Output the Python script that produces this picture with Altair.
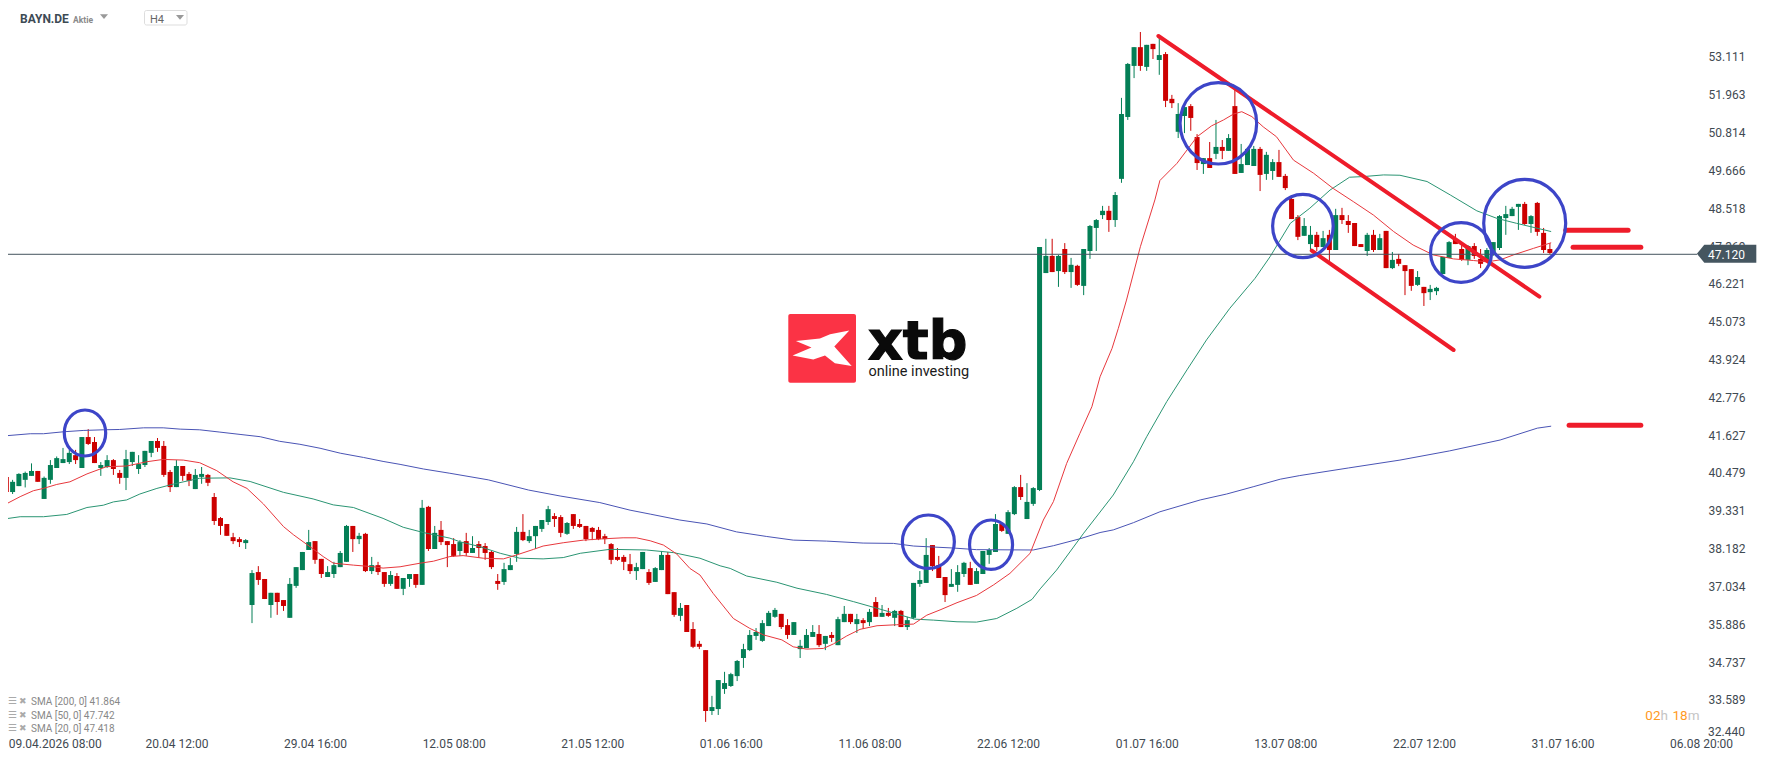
import altair as alt
import pandas as pd

alt.data_transformers.disable_max_rows()

directions = ("RGGGGRGGGG" "GRGRRGGRRG" "GGGGRRRGRR" "GGRRRRRRGG" "RRGRRGGGGR" "RGGGGRGRGR" "RGRGGRGRGR" "RRGRGRRRRG"
              "GGRGGGGRRG" "RRRRRRRRRR" "GGRGGRRGRR" "RRGGGGGGGG" "GGGRRGGGGR" "GRGGRGRGRG" "RGRGGGGRRR" "GGGRGGGGRG"
              "GRGGGGRGRG" "RGGGGRGGGG" "RGRGRRGGRR" "GRGRGRGGGR" "GGRRRRGGRG" "RGRRRRGRGR" "GRRRGRGGGG" "RRGRRGGGGG"
              "GRGRRR")

highs = [40.57,40.27,40.47,40.52,40.77,40.54,40.37,40.87,40.98,41.24,
41.18,41.18,41.57,41.81,41.57,40.81,41.02,40.90,40.57,41.18,
41.12,41.02,41.15,41.45,41.54,41.45,40.57,40.87,40.69,40.51,
40.60,40.66,40.45,39.87,39.14,38.93,38.66,38.53,38.47,37.53,
37.65,37.26,36.84,36.84,36.62,37.29,37.62,38.08,38.75,38.41,
37.87,37.65,37.78,38.11,38.90,38.87,38.66,38.66,37.93,37.78,
37.47,37.50,37.44,37.29,37.41,37.41,39.66,39.48,38.87,39.02,
38.41,38.50,38.44,38.66,38.56,38.41,38.35,38.11,37.41,37.75,
37.90,38.84,39.23,38.75,38.87,39.05,39.48,39.26,39.20,38.99,
39.23,39.08,38.87,38.84,38.84,38.63,38.35,38.20,37.99,38.02,
37.75,38.08,37.56,37.62,38.11,38.08,36.86,36.53,36.47,35.95,
35.38,35.10,33.71,34.19,34.44,34.41,34.80,35.29,35.71,35.77,
36.01,36.29,36.38,36.20,36.04,35.95,35.41,35.74,35.86,35.86,
35.53,35.65,36.11,36.44,36.20,36.20,36.07,36.35,36.71,36.47,
36.38,36.32,36.32,36.11,37.14,37.50,38.50,38.29,37.96,37.32,
37.56,37.68,37.78,37.78,37.59,38.11,38.20,39.23,38.99,39.35,
40.08,40.42,40.17,40.05,47.34,47.59,47.59,47.10,47.46,47.01,
46.80,47.28,48.01,48.19,48.59,48.59,49.01,51.87,52.93,53.41,
53.87,53.48,53.51,53.75,53.26,51.96,51.71,51.59,51.68,50.77,
50.04,50.53,51.20,50.59,50.77,52.11,50.47,50.35,50.41,50.38,
50.23,50.01,50.29,49.56,48.92,48.31,48.22,47.98,47.80,47.83,
47.86,48.50,48.53,48.31,48.07,47.43,47.77,47.86,47.74,47.83,
47.19,47.13,46.79,46.67,46.61,46.13,46.19,46.13,47.04,47.52,
47.74,47.43,47.40,47.46,47.28,47.31,47.49,48.31,48.59,48.56,
48.65,48.71,48.31,48.71,47.92,47.46]

body_tops = [40.36,40.21,40.45,40.48,40.54,40.54,40.33,40.72,40.93,40.90,
41.09,41.02,41.57,41.57,41.42,40.72,40.87,40.87,40.48,40.90,
41.12,40.75,41.15,41.45,41.45,41.30,40.51,40.69,40.69,40.45,
40.42,40.45,40.42,39.75,39.11,38.93,38.53,38.47,38.44,37.44,
37.47,37.26,36.84,36.84,36.62,37.11,37.62,38.08,38.38,38.41,
37.87,37.47,37.68,38.05,38.87,38.87,38.57,38.63,37.68,37.68,
37.47,37.38,37.35,37.29,37.41,37.41,39.42,39.45,38.66,38.75,
38.41,38.32,38.38,38.41,38.20,38.32,38.26,38.08,37.20,37.56,
37.68,38.69,38.69,38.56,38.87,39.05,39.38,39.17,39.14,38.96,
39.23,38.93,38.87,38.81,38.75,38.56,38.32,37.93,37.93,37.71,
37.62,38.08,37.47,37.59,37.99,37.99,36.86,36.38,36.47,35.74,
35.29,35.10,33.37,34.19,34.10,34.37,34.77,35.13,35.56,35.65,
35.92,36.23,36.32,36.20,35.86,35.95,35.23,35.56,35.65,35.59,
35.53,35.56,36.04,36.20,36.20,36.04,36.01,36.26,36.56,36.23,
36.23,36.29,36.29,36.01,37.14,37.23,37.99,38.29,37.68,37.32,
37.11,37.47,37.75,37.59,37.50,38.11,38.14,38.93,38.93,39.29,
40.05,40.05,39.60,40.02,47.34,47.07,47.07,47.07,47.28,46.80,
46.77,47.28,47.98,48.16,48.44,48.44,48.92,51.38,52.90,53.41,
53.41,53.48,53.51,53.17,53.20,51.84,51.38,51.59,51.62,50.68,
50.04,50.04,50.38,50.38,50.65,51.62,49.86,50.32,50.32,50.32,
50.14,49.92,49.92,49.50,48.80,48.25,47.98,47.71,47.71,47.61,
47.71,48.31,48.31,48.13,48.07,47.43,47.71,47.71,47.61,47.83,
46.95,46.98,46.79,46.67,46.43,46.13,46.07,46.10,47.04,47.49,
47.58,47.28,47.37,47.37,46.98,47.25,47.49,48.28,48.34,48.50,
48.65,48.65,48.28,48.68,47.77,47.28]

body_bottoms = [39.90,39.90,40.08,40.27,40.39,40.21,39.69,40.27,40.63,40.78,
40.81,40.87,40.63,41.36,40.78,40.63,40.66,40.60,40.33,40.33,
40.81,40.60,40.72,41.09,41.24,40.42,40.05,40.05,40.39,40.24,
39.99,40.36,40.18,39.02,38.87,38.57,38.41,38.38,38.35,36.47,
37.23,36.65,36.47,36.56,36.44,36.08,37.05,37.53,38.14,37.84,
37.41,37.32,37.41,37.62,37.78,38.47,38.47,37.50,37.50,37.47,
37.11,37.11,36.96,36.96,37.26,37.08,37.08,38.17,38.17,38.38,
38.29,37.96,38.11,38.05,38.05,38.20,38.05,37.62,37.11,37.17,
37.53,38.02,38.44,38.41,38.56,38.78,38.99,39.08,38.66,38.63,
38.87,38.84,38.47,38.69,38.47,38.47,37.84,37.84,37.78,37.50,
37.50,37.56,37.14,37.17,37.53,36.80,36.17,36.14,35.65,35.20,
35.20,33.25,33.25,33.31,33.92,34.01,34.31,34.86,35.10,35.53,
35.38,35.83,36.11,35.80,35.56,35.56,35.13,35.16,35.50,35.25,
35.29,35.47,35.25,35.95,35.95,35.89,35.92,35.95,36.11,36.11,
36.14,36.08,35.80,35.80,36.08,37.11,37.14,37.65,37.29,36.77,
37.02,37.08,37.41,37.08,37.11,37.41,37.99,38.08,38.72,38.63,
39.23,39.75,39.08,39.54,39.96,46.55,46.58,46.61,46.58,46.58,
46.19,46.16,47.22,47.92,48.31,48.16,48.16,49.41,51.29,52.84,
52.84,52.81,53.35,53.02,51.78,51.71,50.84,51.32,51.26,49.89,
49.86,49.74,50.17,50.26,50.26,49.56,49.59,49.83,49.80,49.53,
49.56,49.65,49.47,49.13,48.19,47.65,47.68,47.43,47.34,47.34,
47.25,47.25,48.16,48.01,47.37,47.34,47.22,47.25,47.25,46.70,
46.70,46.83,46.61,46.16,46.19,45.94,45.97,46.00,46.52,47.01,
47.43,46.95,46.95,47.07,46.83,46.95,47.19,47.31,48.22,48.28,
48.56,48.04,48.04,47.80,47.25,47.16]

lows = [39.84,39.84,40.08,40.04,40.39,40.21,39.69,40.15,40.63,40.78,
40.75,40.75,40.63,41.33,40.78,40.39,40.63,40.42,40.15,39.96,
40.69,40.45,40.66,40.96,41.12,40.36,39.90,40.05,40.24,40.08,
39.99,40.15,40.08,38.90,38.60,38.57,38.32,38.23,38.17,35.92,
37.08,36.65,36.08,36.17,36.29,36.08,36.99,37.53,38.14,37.72,
37.29,37.32,37.29,37.62,37.78,38.08,38.32,37.47,37.41,37.38,
37.02,37.05,36.96,36.77,37.02,36.99,37.08,38.11,38.17,38.29,
37.62,37.93,37.96,37.96,38.05,37.90,37.84,37.56,36.93,37.08,
37.53,37.78,38.41,38.35,38.17,38.69,38.90,38.84,38.53,38.60,
38.78,38.81,38.41,38.44,38.44,38.32,37.71,37.81,37.53,37.41,
37.23,37.56,37.08,37.17,37.53,36.80,36.11,35.98,35.65,35.16,
35.13,32.92,33.13,33.13,33.77,33.98,34.16,34.56,35.07,35.41,
35.35,35.83,36.08,35.74,35.44,35.56,34.86,35.16,35.50,35.19,
35.10,35.35,35.25,35.95,35.89,35.62,35.74,35.83,36.11,36.11,
36.11,35.83,35.80,35.71,36.04,37.02,37.14,37.50,37.29,36.56,
37.02,36.87,37.32,37.08,37.11,37.41,37.72,38.08,38.69,38.63,
39.20,39.66,39.08,39.48,39.93,46.55,46.58,46.13,46.52,46.10,
46.16,45.88,46.98,47.22,48.19,47.80,47.95,49.29,51.20,52.47,
52.69,52.69,53.05,52.57,51.59,51.56,50.65,50.80,50.87,49.68,
49.56,49.74,50.01,50.01,50.26,49.56,49.59,49.83,49.80,49.04,
49.38,49.38,49.47,49.07,48.19,47.55,47.68,47.22,47.22,47.34,
46.92,47.25,48.04,47.77,47.37,47.34,47.07,47.19,47.25,46.70,
46.67,46.76,45.88,46.01,46.16,45.55,45.73,45.88,46.52,47.01,
47.43,46.92,46.79,46.98,46.70,46.89,47.07,47.25,47.71,48.28,
47.86,48.01,47.77,47.68,47.16,47.13]

sma20_i = [1,3.2,5.3,6.9,9,11.1,13.8,16.9,20.1,23.3,25.9,29.1,31.7,34.4,37,39.2,41.8,45,46.6,49.2,51.3,52.9,56.1,59.3,60.8,63.5,66.7,68.8,
71.4,73.5,76.7,79.9,82,84.7,86.2,89.4,92.6,95.8,98.9,101,103.2,105.3,107.4,109.5,111.1,113.2,115.3,116.4,119,121.2,124.1,125.9,128,130.7,132.3,134.4,136.5,139.2,142.3,145,147.1,149.2,151.9,155,157.7,160.3,163.5,165.6,167.2,169.3,171.4,173.3,174.6,176.5,177.5,178.8,181,183.3,184.1,186.8,190,192.3,194.2,195.8,197.1,198.7,200.5,202.6,205.3,208.5,211.6,214.8,218,221.2,224.3,227.5,230.7,233.9,236,238.1,240.2,243.4,246.2]
sma20_v = [39.54,39.76,39.94,40.01,40.13,40.21,40.45,40.67,40.69,40.82,40.89,40.87,40.79,40.55,40.21,40.01,39.54,38.85,38.6,38.24,37.94,37.74,37.68,37.63,37.59,37.63,37.74,37.8,
37.94,37.97,37.89,37.87,37.99,38.16,38.26,38.36,38.44,38.48,38.51,38.51,38.42,38.29,38.02,37.58,37.38,36.82,36.32,36.06,35.76,35.56,35.41,35.2,35.13,35.15,35.29,35.53,35.73,35.84,35.87,35.89,36.16,36.32,36.54,36.76,37.08,37.43,38.04,39.05,39.61,40.77,41.68,42.49,43.4,44.26,44.87,45.73,47.35,48.77,49.36,49.88,50.69,51.02,51.2,51.38,51.45,51.3,50.99,50.69,49.98,49.58,49.12,48.72,48.31,47.81,47.4,47.1,46.98,46.93,46.89,46.95,47.1,47.3,47.47]

sma50_i = [1,3.2,6.9,10.6,13.8,16.4,18,20.1,22.2,24.9,27.5,31.7,36.5,39.7,45,49.7,52.9,56.1,60.8,64,67.2,71.4,
73,76.2,79.4,82.5,86.2,89.4,92.1,96.8,102.6,106.9,111.1,114.3,115.9,118.5,123.3,126.5,131.2,135.5,139.2,142.3,145.2,148.2,151.9,155,158.2,161.4,163.8,165.1,167.7,172,176.7,179.9,182,185.2,188.4,191.5,195.2,199.2,201.6,204.8,207.9,211.1,214.2,216.4,219.6,222.2,226.5,230.2,234.4,237.6,240.7,246.2]
sma50_v = [39.09,39.15,39.15,39.22,39.43,39.5,39.6,39.66,39.84,40.01,40.14,40.32,40.33,40.22,39.89,39.69,39.51,39.43,39.1,38.83,38.67,38.5,
38.39,38.24,38.04,37.89,37.87,37.91,38.04,38.16,38.14,38.06,37.89,37.66,37.58,37.35,37.16,36.98,36.79,36.57,36.37,36.2,36.04,36.01,35.96,35.95,36.06,36.37,36.64,36.96,37.53,38.65,39.81,40.82,41.58,42.65,43.61,44.52,45.48,46.39,47.05,48.06,48.52,49.07,49.46,49.48,49.53,49.52,49.33,48.92,48.44,48.21,48.06,47.81]

sma200_i = [1,4.8,6.9,10.1,13.2,16.4,19,22.8,25.9,28.6,31.7,34.9,38.1,41.3,44.4,47.6,50.8,54,57.7,60.8,63.5,67.2,71.4,77.5,83.9,88.9,95.2,100,103.2,107.9,112.2,116.9,121.7,125.9,131.2,137,141.8,145,151.3,155,164,167.2,171.4,174.6,176.7,179.9,184.1,190.5,194.7,198.9,203.2,206.3,214,222.2,230.1,238.1,244,246.2]
sma200_v = [41.61,41.67,41.67,41.73,41.77,41.79,41.8,41.85,41.85,41.81,41.79,41.72,41.65,41.58,41.44,41.35,41.23,41.08,40.95,40.83,40.74,40.6,40.47,40.27,39.96,39.78,39.58,39.35,39.23,39.05,38.93,38.69,38.55,38.44,38.41,38.35,38.34,38.26,38.2,38.15,38.14,38.27,38.48,38.67,38.75,38.97,39.3,39.66,39.84,40.06,40.29,40.4,40.63,40.87,41.15,41.48,41.84,41.9]

price_ticks = [53.111,51.963,50.814,49.666,48.518,47.369,46.221,45.073,43.924,42.776,41.627,40.479,39.331,38.182,37.034,35.886,34.737,33.589]
time_ticks = [1.3,23,45,67,89,111,133,155,177,199,221,243,265]
time_labels = ["09.04.2026 08:00","20.04 12:00","29.04 16:00","12.05 08:00","21.05 12:00","01.06 16:00","11.06 08:00","22.06 12:00","01.07 16:00","13.07 08:00","22.07 12:00","31.07 16:00","06.08 20:00"]

trend_lines = [([183.86,244.33],[53.749,45.832],4),([208.2,230.71],[47.229,44.213],4),
               ([248.52,258.41],[47.849,47.849],5),([249.68,260.43],[47.332,47.332],5),([249.05,260.43],[41.927,41.927],5)]
ellipses = [(13.49,41.693,20.7,23),(147.35,38.392,26,26.7),(157.3,38.30,21.5,24.7),(193.38,51.098,38.3,40.7),
            (206.8,47.979,30.3,31.7),(231.9,47.174,30.5,29.8),(242,48.061,41,44)]

FONT = "Roboto"
n = len(highs)
df = pd.DataFrame({"i": range(1, n + 1), "high": highs, "top": body_tops, "bottom": body_bottoms, "low": lows, "dir": list(directions)})

xscale = alt.Scale(domain=[1.27, 270.3], nice=False, zero=False, padding=0)
yscale = alt.Scale(domain=[32.461, 54.599], nice=False, zero=False, padding=0)
color = alt.Color("dir:N", scale=alt.Scale(domain=["G", "R"], range=["#047f56", "#cc0000"]), legend=None)
label_expr = "[" + ",".join(f"'{t}'" for t in time_labels) + "][indexof([" + ",".join(str(t) for t in time_ticks) + "],datum.value)]"
x_axis = alt.Axis(values=time_ticks, labelExpr=label_expr, labelAlign="left", ticks=False, domain=False, title=None,
                  grid=False, labelPadding=1, labelFont=FONT, labelFontSize=12, labelColor="#3f4a52", labelOverlap=False, labelFlush=False)
y_axis = alt.Axis(values=price_ticks, orient="right", format=".3f", ticks=False, domain=False, title=None,
                  grid=False, labelPadding=5, labelFont=FONT, labelFontSize=12, labelColor="#3f4a52", labelOverlap=False, labelFlush=False)
X = alt.X("i:Q", scale=xscale, axis=x_axis)
Y = lambda f: alt.Y(f, scale=yscale, axis=y_axis)

wicks = alt.Chart(df).mark_rule(strokeWidth=1).encode(x=X, y=Y("low:Q"), y2="high:Q", color=color)
bodies = alt.Chart(df).mark_bar(size=5).encode(x=X, y=Y("top:Q"), y2="bottom:Q", color=color)

def line(xs, ys, col, width=1, cap="butt"):
    d = pd.DataFrame({"i": xs, "v": ys})
    return alt.Chart(d).mark_line(color=col, strokeWidth=width, strokeCap=cap, clip=False).encode(x=X, y=Y("v:Q"), order="i:Q")

layers = [wicks, bodies,
          line(sma200_i, sma200_v, "#4a54b5"), line(sma50_i, sma50_v, "#2b9573"), line(sma20_i, sma20_v, "#e8383d")]

one = pd.DataFrame({"a": [0]})
def val(v):
    return alt.value(v - 8)

def txt(text, x, y, size, col, weight=None, font=FONT, baseline="middle", **extra):
    kw = dict(text=text, align="left", baseline=baseline, font=font, fontSize=size, color=col, **extra)
    if weight:
        kw["fontWeight"] = weight
    return alt.Chart(one).mark_text(**kw).encode(x=val(x), y=val(y))

def glyph(path, x, y, radius, col):
    return alt.Chart(one).mark_point(shape=path, size=(2 * radius) ** 2, filled=True, color=col, opacity=1, strokeWidth=0).encode(x=val(x), y=val(y))

# current price line and tag
layers.append(alt.Chart(pd.DataFrame({"v": [47.12]})).mark_rule(color="#44535d", strokeWidth=1).encode(y=Y("v:Q"), x=alt.value(0), x2=val(1697)))
layers.append(glyph("M -0.98 0 L -0.733 -0.3 L 1 -0.3 L 1 0.3 L -0.733 0.3 Z", 1726.3, 253.7, 30, "#455660"))
layers.append(txt("47.120", 1708, 254.5, 12, "#ffffff"))
layers.append(txt("32.440", 1708, 731.7, 12, "#3f4a52"))

# drawn annotations
for xs, ys, w in trend_lines:
    layers.append(line(xs, ys, "#ee1c2a", w, "round"))
for ci, cv, rx, ry in ellipses:
    k = round(ry / rx, 4)
    path = f"M -1 0 A 1 {k} 0 1 1 1 0 A 1 {k} 0 1 1 -1 0 Z"
    layers.append(alt.Chart(pd.DataFrame({"i": [ci], "v": [cv]})).mark_point(
        shape=path, size=(2 * rx) ** 2, filled=False, stroke="#3d45c8", strokeWidth=3.2, opacity=1, clip=False).encode(x=X, y=Y("v:Q")))

# logo
layers.append(alt.Chart(one).mark_rect(color="#fb3345", cornerRadius=2).encode(x=val(788.3), x2=val(856), y=val(314), y2=val(382.7)))
layers.append(glyph("M 0.9 -0.59 L 0.26 -0.47 L -0.08 -0.33 L -0.88 -0.24 L -0.36 -0.03 L -0.99 0.24 L -0.3 0.37 L 0.09 0.24 L 0.42 0.5 L 0.98 0.59 L 0.4 -0.06 Z",
                    822.3, 348.3, 30, "#ffffff"))
layers.append(txt("xtb", 868, 359, 54, "#0a0a0a", "bold", "DejaVu Sans", "alphabetic", stroke="#0a0a0a", strokeWidth=1.2))
layers.append(txt("online investing", 868.5, 375.7, 14.5, "#1a1a1a", None, FONT, "alphabetic"))

# header
layers.append(txt("BAYN.DE", 20, 19, 12, "#3d4a54", "bold"))
layers.append(txt("Aktie", 73, 19.5, 8.5, "#8a8a8a", "bold"))
tri = "M -1 -0.6 L 1 -0.6 L 0 0.6 Z"
layers.append(glyph(tri, 104, 16.7, 4, "#999999"))
layers.append(alt.Chart(one).mark_rect(fill="#ffffff", stroke="#dddddd", strokeWidth=1, cornerRadius=2).encode(x=val(144.5), x2=val(187), y=val(10.5), y2=val(25)))
layers.append(txt("H4", 150, 19.5, 11, "#666666"))
layers.append(glyph(tri, 180, 17.3, 4, "#999999"))

# indicator legend
for label, y in [("SMA [200, 0] 41.864", 701.7), ("SMA [50, 0] 47.742", 715.5), ("SMA [20, 0] 47.418", 729.3)]:
    layers.append(txt("\u2630", 8, y - 1, 10, "#aaaaaa", None, "DejaVu Sans"))
    layers.append(txt("\u2716", 19, y - 1, 9, "#aaaaaa", None, "DejaVu Sans"))
    layers.append(txt(label, 31, y, 10, "#888888"))

# countdown
layers.append(txt("02", 1645.3, 716, 13.5, "#ff9a1f"))
layers.append(txt("h", 1660.5, 716, 13.5, "#c4c4c4"))
layers.append(txt("18", 1672.5, 716, 13.5, "#ff9a1f"))
layers.append(txt("m", 1687.7, 716, 13.5, "#c4c4c4"))

chart = alt.layer(*layers).resolve_scale(color="independent").properties(
    width=1695, height=729,
    autosize=alt.AutoSizeParams(type="none"),
    padding={"left": 0, "top": 0, "right": 57, "bottom": 16},
    background="#ffffff",
).configure_view(stroke=None)

chart.save("out.html", embed_options={"renderer": "svg", "actions": False})
